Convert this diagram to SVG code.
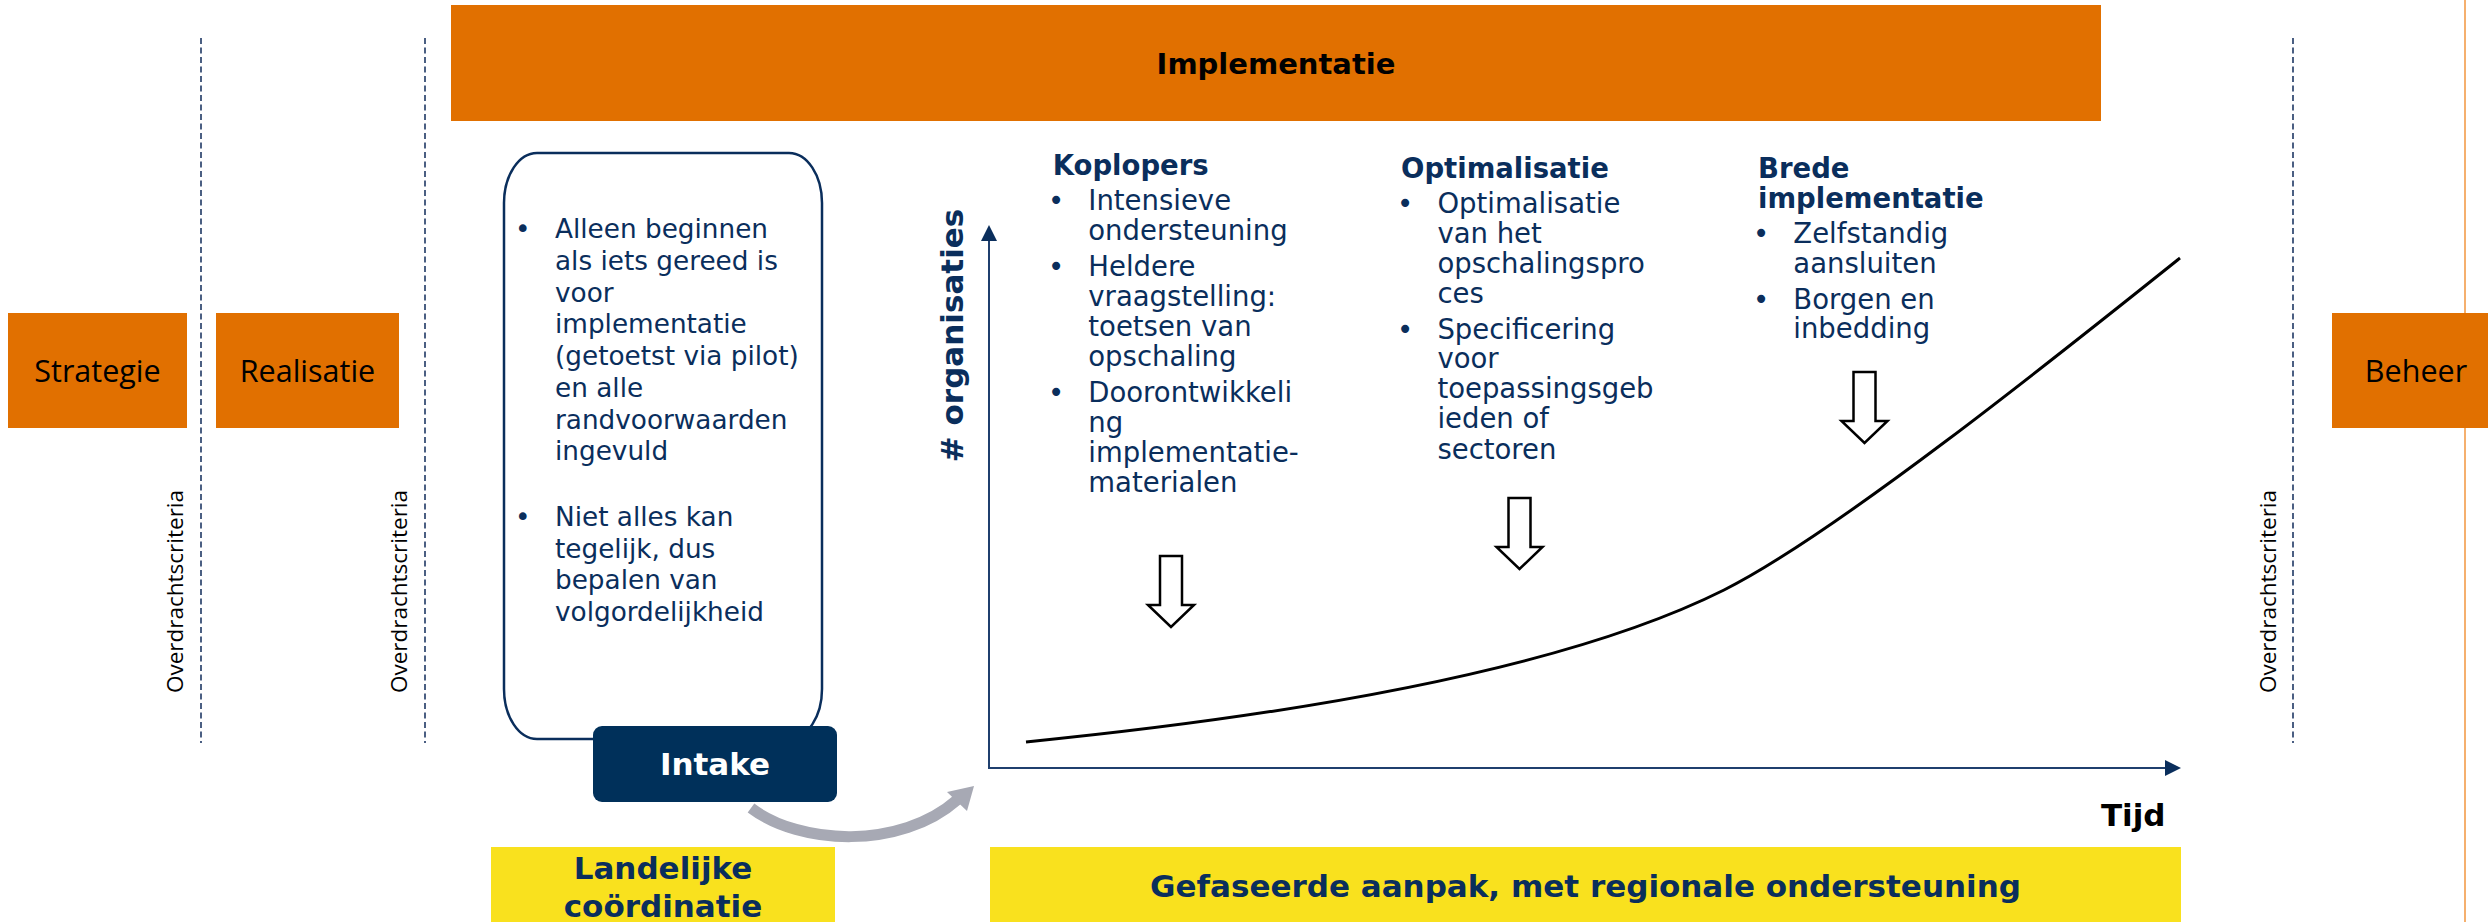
<svg xmlns="http://www.w3.org/2000/svg" width="2488" height="922" viewBox="0 0 2488 922">
<style>
.orange{fill:#E17000}
.yellow{fill:#F9E11E}
.phase{font-family:"Open Sans","Liberation Sans",sans-serif;font-size:30.5px;fill:#000;text-anchor:middle}
.crit{font-family:"Open Sans","Liberation Sans",sans-serif;font-size:22.5px;fill:#000;text-anchor:middle}
.dash{stroke:#1F3864;stroke-width:1.6;stroke-dasharray:6 3.5;fill:none}
.body{font-family:"DejaVu Sans","Liberation Sans",sans-serif;fill:#0A2E5C}
.b26{font-size:26.3px}
.b27{font-size:27.5px}
.bold{font-family:"DejaVu Sans","Liberation Sans",sans-serif;font-weight:bold}
.axis{stroke:#1F3F6E;stroke-width:2;fill:none}
.blk{fill:#fff;stroke:#000;stroke-width:2.5;stroke-linejoin:miter}
</style>
<defs>
<path id="blockArrow" d="M -11 0 H 11 V 49 H 23 L 0 71 L -23 49 H -11 Z"/>
</defs>
<rect width="2488" height="922" fill="#fff"/>

<!-- thin orange line at right -->
<line x1="2465" y1="0" x2="2465" y2="922" stroke="#F39C4A" stroke-width="1.6"/>

<!-- dashed separators -->
<g id="separators">
<line class="dash" x1="201" y1="38" x2="201" y2="743"/>
<line class="dash" x1="425" y1="38" x2="425" y2="743"/>
<line class="dash" x1="2293" y1="38" x2="2293" y2="743"/>
<text class="crit" transform="translate(183,591.5) rotate(-90)">Overdrachtscriteria</text>
<text class="crit" transform="translate(407,591.5) rotate(-90)">Overdrachtscriteria</text>
<text class="crit" transform="translate(2276,591.5) rotate(-90)">Overdrachtscriteria</text>
</g>

<g id="strategie">
<rect class="orange" x="8" y="313" width="179" height="115"/>
<text class="phase" x="97.5" y="381.5">Strategie</text>
</g>
<g id="realisatie">
<rect class="orange" x="216" y="313" width="183" height="115"/>
<text class="phase" x="307.5" y="381.5">Realisatie</text>
</g>
<g id="beheer">
<rect class="orange" x="2332" y="313" width="156" height="115"/>
<text class="phase" x="2416" y="381.5">Beheer</text>
</g>

<g id="implementatie">
<rect class="orange" x="451" y="5" width="1650" height="116"/>
<text class="bold" x="1276" y="74" font-size="29" fill="#000" text-anchor="middle">Implementatie</text>
</g>

<!-- left rounded box -->
<g id="voorwaarden">
<rect x="504" y="153" width="318" height="586" rx="33" ry="50" fill="#fff" stroke="#0A2E5C" stroke-width="2.5"/>
<g class="body b26">
<text x="515" y="238.3">•</text>
<text x="555" y="238.3">Alleen beginnen</text>
<text x="555" y="270">als iets gereed is</text>
<text x="555" y="301.7">voor</text>
<text x="555" y="333.4">implementatie</text>
<text x="555" y="365.1">(getoetst via pilot)</text>
<text x="555" y="396.8">en alle</text>
<text x="555" y="428.5">randvoorwaarden</text>
<text x="555" y="460.2">ingevuld</text>
<text x="515" y="526">•</text>
<text x="555" y="526">Niet alles kan</text>
<text x="555" y="557.7">tegelijk, dus</text>
<text x="555" y="589.4">bepalen van</text>
<text x="555" y="621.1">volgordelijkheid</text>
</g>
</g>

<g id="intake">
<rect x="593" y="726" width="244" height="76" rx="9" ry="9" fill="#00305A"/>
<text class="bold" x="715" y="774.5" font-size="31" fill="#fff" text-anchor="middle">Intake</text>
</g>

<g id="landelijke">
<rect class="yellow" x="491" y="847" width="344" height="75"/>
<text class="bold" x="663" y="879" font-size="31" fill="#0A2E5C" text-anchor="middle">Landelijke</text>
<text class="bold" x="663" y="917" font-size="31" fill="#0A2E5C" text-anchor="middle">coördinatie</text>
</g>

<g id="gefaseerd">
<rect class="yellow" x="990" y="847" width="1191" height="75"/>
<text class="bold" x="1585.5" y="897" font-size="31" fill="#0A2E5C" text-anchor="middle">Gefaseerde aanpak, met regionale ondersteuning</text>
</g>

<g id="koplopers">
<text class="bold" x="1052.7" y="175" font-size="27.5" fill="#0A2E5C">Koplopers</text>
<g class="body b27">
<text x="1048" y="210">•</text>
<text x="1088.3" y="210">Intensieve</text>
<text x="1088.3" y="240">ondersteuning</text>
<text x="1048" y="276">•</text>
<text x="1088.3" y="276">Heldere</text>
<text x="1088.3" y="305.7">vraagstelling:</text>
<text x="1088.3" y="335.7">toetsen van</text>
<text x="1088.3" y="366">opschaling</text>
<text x="1048" y="401.7">•</text>
<text x="1088.3" y="401.7">Doorontwikkeli</text>
<text x="1088.3" y="431.7">ng</text>
<text x="1088.3" y="461.7">implementatie-</text>
<text x="1088.3" y="492.3">materialen</text>
</g>
</g>

<g id="optimalisatie">
<text class="bold" x="1401" y="178.3" font-size="27.5" fill="#0A2E5C">Optimalisatie</text>
<g class="body b27">
<text x="1397" y="212.7">•</text>
<text x="1437.4" y="212.7">Optimalisatie</text>
<text x="1437.4" y="242.7">van het</text>
<text x="1437.4" y="273.3">opschalingspro</text>
<text x="1437.4" y="303.3">ces</text>
<text x="1397" y="339.3">•</text>
<text x="1437.4" y="339.3">Specificering</text>
<text x="1437.4" y="368.3">voor</text>
<text x="1437.4" y="398.3">toepassingsgeb</text>
<text x="1437.4" y="428.3">ieden of</text>
<text x="1437.4" y="459.3">sectoren</text>
</g>
</g>

<g id="brede">
<text class="bold" x="1758" y="178.3" font-size="27.5" fill="#0A2E5C">Brede</text>
<text class="bold" x="1758" y="208.3" font-size="27.5" fill="#0A2E5C">implementatie</text>
<g class="body b27">
<text x="1753" y="243.3">•</text>
<text x="1793.3" y="243.3">Zelfstandig</text>
<text x="1793.3" y="273.3">aansluiten</text>
<text x="1753" y="309.3">•</text>
<text x="1793.3" y="309.3">Borgen en</text>
<text x="1793.3" y="338.3">inbedding</text>
</g>
</g>

<g id="axislabels">
<text class="bold" transform="translate(963,335.5) rotate(-90)" font-size="31" fill="#0A2E5C" text-anchor="middle"># organisaties</text>
<text class="bold" x="2165.5" y="826" font-size="31" fill="#000" text-anchor="end">Tijd</text>
</g>

<g id="connectors">
<!-- axes -->
<line class="axis" x1="989" y1="768" x2="989" y2="238"/>
<polygon points="989,225 997,241 981,241" fill="#0A2E5C"/>
<line class="axis" x1="988" y1="768" x2="2167" y2="768"/>
<polygon points="2181,768 2165,760 2165,776" fill="#0A2E5C"/>
<!-- growth curve -->
<path d="M 1026 742 C 1326 712, 1574 665, 1724 590 C 1834 535, 2060 354, 2180 258" fill="none" stroke="#000" stroke-width="3"/>
<!-- hollow block arrows -->
<use href="#blockArrow" class="blk" transform="translate(1171,556)"/>
<use href="#blockArrow" class="blk" transform="translate(1519.5,498)"/>
<use href="#blockArrow" class="blk" transform="translate(1864.5,372)"/>
<!-- grey curved arrow from Intake -->
<path d="M 751 808 C 800 845, 900 850, 957 800" fill="none" stroke="#A7A9B4" stroke-width="11"/>
<polygon points="974,786 947,792 967,811" fill="#A7A9B4"/>
</g>
</svg>
